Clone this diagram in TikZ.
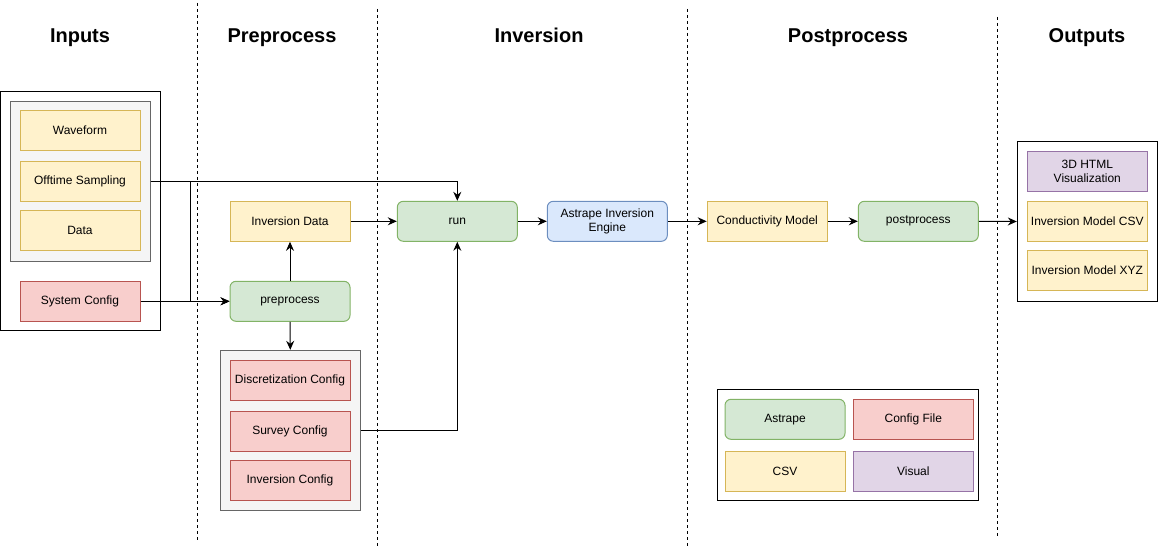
\documentclass[tikz,border=0pt]{standalone}
\usepackage{fontspec}
\setmainfont{Liberation Sans}
\usetikzlibrary{arrows.meta}
\definecolor{yfill}{HTML}{FFF2CC}\definecolor{ystroke}{HTML}{D6B656}
\definecolor{rfill}{HTML}{F8CECC}\definecolor{rstroke}{HTML}{B85450}
\definecolor{gfill}{HTML}{D5E8D4}\definecolor{gstroke}{HTML}{82B366}
\definecolor{bfill}{HTML}{DAE8FC}\definecolor{bstroke}{HTML}{6C8EBF}
\definecolor{pfill}{HTML}{E1D5E7}\definecolor{pstroke}{HTML}{9673A6}
\definecolor{cfill}{HTML}{F5F5F5}\definecolor{cstroke}{HTML}{666666}
\tikzset{
  box/.style={rectangle, draw, line width=1pt, minimum width=120, minimum height=40, inner sep=0pt, align=center, font=\fontsize{12}{14}\selectfont},
  ybox/.style={box, fill=yfill, draw=ystroke},
  rbox/.style={box, fill=rfill, draw=rstroke},
  gbox/.style={box, fill=gfill, draw=gstroke, rounded corners=6pt},
  bbox/.style={box, fill=bfill, draw=bstroke, rounded corners=6pt},
  pbox/.style={box, fill=pfill, draw=pstroke},
  container/.style={rectangle, draw=cstroke, fill=cfill, line width=1pt, inner sep=0pt},
  frame/.style={rectangle, draw=black, fill=white, line width=1pt, inner sep=0pt},
  title/.style={anchor=base, font=\fontsize{20}{24}\selectfont\bfseries},
  lane/.style={line width=0.8pt, dash pattern=on 3pt off 3pt},
  conn/.style={line width=1pt, -{Stealth[length=9pt, width=8pt, inset=3pt]}},
}
\begin{document}
\begin{tikzpicture}[x=1pt, y=-1pt]
\useasboundingbox (0,0) rectangle (1158,548);
% lanes
\coordinate (l1t) at (197.5,3); \coordinate (l1b) at (197.5,540);
\coordinate (l2t) at (377.5,9); \coordinate (l2b) at (377.5,547);
\coordinate (l3t) at (687.5,9); \coordinate (l3b) at (687.5,547);
\coordinate (l4t) at (997.5,17); \coordinate (l4b) at (997.5,536);
\draw[lane] (l1t) -- (l1b);
\draw[lane] (l2t) -- (l2b);
\draw[lane] (l3t) -- (l3b);
\draw[lane] (l4t) -- (l4b);
% titles
\node[title] (tin) at (80,43) {Inputs};
\node[title] (tpre) at (282,43) {Preprocess};
\node[title] (tinv) at (539,43) {Inversion};
\node[title] (tpost) at (848,43) {Postprocess};
\node[title] (tout) at (1087,43) {Outputs};
% inputs
\node[frame, minimum width=159.5, minimum height=238.5] (inbox) at (80.4,211) {};
\node[container, minimum width=140, minimum height=160] (ginputs) at (80.2,181.3) {};
\node[ybox] (wave) at (80,130.3) {Waveform};
\node[ybox] (offt) at (80,181.1) {Offtime Sampling};
\node[ybox] (data) at (80,230.3) {Data};
\node[rbox] (sysc) at (80,301.3) {System Config};
% preprocess
\node[ybox] (invdata) at (290,221.3) {Inversion Data};
\node[gbox] (preproc) at (290,301.3) {preprocess};
\node[container, minimum width=140, minimum height=160] (gconfig) at (290.3,430.3) {};
\node[rbox] (disc) at (290,380.3) {Discretization Config};
\node[rbox] (surv) at (290,431) {Survey Config};
\node[rbox] (invc) at (290,480.3) {Inversion Config};
% inversion
\node[gbox] (run) at (457.3,221.3) {run};
\node[bbox] (engine) at (607.3,221.3) {Astrape Inversion\\Engine};
% postprocess
\node[ybox] (cond) at (767.2,221.3) {Conductivity Model};
\node[gbox] (postproc) at (918.3,221.3) {postprocess};
% outputs
\node[frame, minimum width=140, minimum height=159.6] (outbox) at (1087.3,221.5) {};
\node[pbox] (html) at (1087.3,171.3) {3D HTML\\Visualization};
\node[ybox] (csv) at (1087.3,221.1) {Inversion Model CSV};
\node[ybox] (xyz) at (1087.3,270.3) {Inversion Model XYZ};
% legend
\node[frame, minimum width=261, minimum height=110.7] (legend) at (848,444.7) {};
\node[gbox] (lgastrape) at (785,419.3) {Astrape};
\node[rbox] (lgconfig) at (913.3,419.3) {Config File};
\node[ybox] (lgcsv) at (785,471) {CSV};
\node[pbox] (lgvisual) at (913.3,471) {Visual};
% connectors
\coordinate (jn) at (190,181.3);
\draw[conn] (ginputs.east) -| (run.north);
\draw[conn] (ginputs.east) -- (jn) |- (preproc.west);
\draw[conn] (sysc.east) -- (preproc.west);
\draw[conn] (preproc.north) -- (invdata.south);
\draw[conn] (preproc.south) -- (gconfig.north);
\draw[conn] (gconfig.east) -| (run.south);
\draw[conn] (invdata.east) -- (run.west);
\draw[conn] (run.east) -- (engine.west);
\draw[conn] (engine.east) -- (cond.west);
\draw[conn] (cond.east) -- (postproc.west);
\draw[conn] (postproc.east) -- (outbox.west);
\end{tikzpicture}
\end{document}
